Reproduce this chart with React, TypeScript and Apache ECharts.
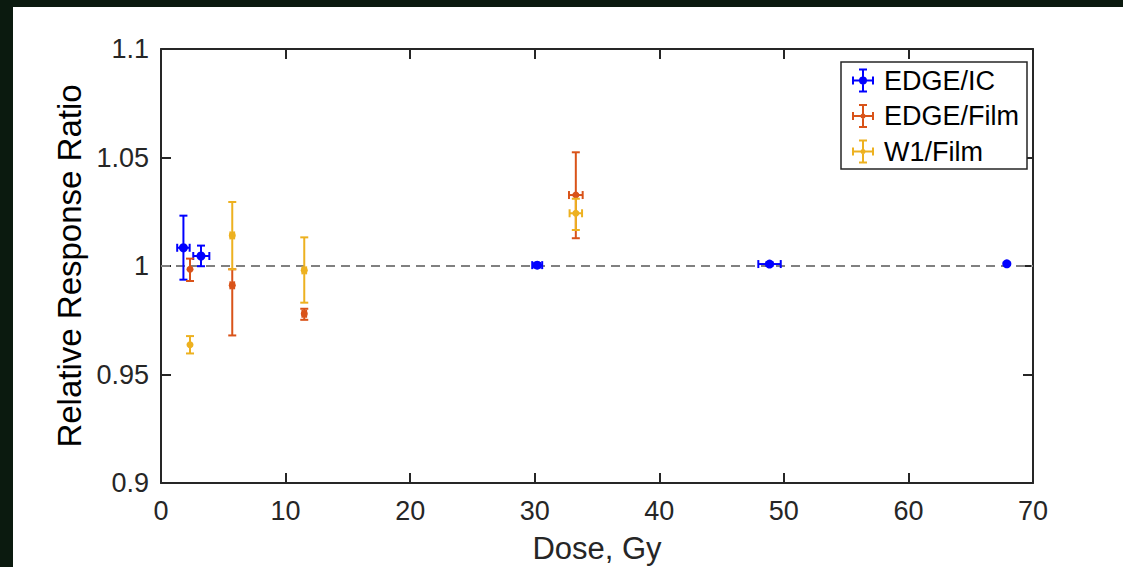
import React, { useEffect, useRef } from "react";
import * as echarts from "echarts";

// ---- data ----
const seriesNames = ["EDGE/IC", "EDGE/Film", "W1/Film"];
const seriesColors = ["#0000FF", "#D95319", "#EDB120"];

const icDose = [1.8, 3.21, 30.2, 48.85, 67.9];
const icRatio = [1.0084, 1.0046, 1.0004, 1.0009, 1.001];
const icRatioLow = [0.9937, 0.9999, 0.9994, 1.0001, 1.0006];
const icRatioHigh = [1.0232, 1.0094, 1.0014, 1.0017, 1.0014];
const icDoseLow = [1.3, 2.59, 29.8, 47.95, 67.9];
const icDoseHigh = [2.3, 3.88, 30.6, 49.75, 67.9];

const edgeFilmDose = [2.33, 5.72, 11.5, 33.3];
const edgeFilmRatio = [0.9985, 0.9911, 0.978, 1.0327];
const edgeFilmRatioLow = [0.9931, 0.968, 0.9752, 1.0128];
const edgeFilmRatioHigh = [1.0034, 0.9985, 0.9803, 1.0524];
const edgeFilmDoseLow = [2.33, 5.57, 11.35, 32.75];
const edgeFilmDoseHigh = [2.33, 5.87, 11.65, 33.85];

const w1FilmDose = [2.33, 5.72, 11.5, 33.3];
const w1FilmRatio = [0.9637, 1.0141, 0.998, 1.0243];
const w1FilmRatioLow = [0.9597, 0.9985, 0.9831, 1.0166];
const w1FilmRatioHigh = [0.9677, 1.0295, 1.0132, 1.031];
const w1FilmDoseLow = [2.33, 5.57, 11.35, 32.8];
const w1FilmDoseHigh = [2.33, 5.87, 11.65, 33.8];

const referenceDose = [0, 70];
const referenceRatio = [1, 1];

const xAxisMin = 0;
const xAxisMax = 70;
const xAxisStep = 10;
const yAxisMin = 0.9;
const yAxisMax = 1.1;
const yAxisStep = 0.05;

const xAxisTitle = "Dose, Gy";
const yAxisTitle = "Relative Response Ratio";

const FONT = "'Liberation Sans', Arial, Helvetica, sans-serif";
const AXIS_COLOR = "#262626";

function rows(
  dose: number[],
  ratio: number[],
  lo: number[],
  hi: number[],
  dlo: number[],
  dhi: number[]
) {
  return dose.map((d, i) => [d, ratio[i], lo[i], hi[i], dlo[i], dhi[i]]);
}

function legendIcon(r: number) {
  const parts = [
    "M10,0 h2 v24 h-2 Z",
    "M7,0 h8 v2 h-8 Z",
    "M7,22 h8 v2 h-8 Z",
    "M0,11 h22 v2 h-22 Z",
    "M0,8 h2 v8 h-2 Z",
    "M20,8 h2 v8 h-2 Z",
    `M${11 - r},12 A${r},${r} 0 1 1 ${11 + r},12 A${r},${r} 0 1 1 ${11 - r},12 Z`,
  ];
  return "path://" + parts.join(" ");
}

function makeErrorSeries(name: string, color: string, data: number[][], radius: number) {
  return {
    type: "custom",
    name,
    xAxisIndex: 0,
    yAxisIndex: 0,
    itemStyle: { color },
    encode: { x: 0, y: 1 },
    data,
    z: 3,
    renderItem: (params: any, api: any) => {
      const x = api.value(0);
      const y = api.value(1);
      const yl = api.value(2);
      const yh = api.value(3);
      const xl = api.value(4);
      const xh = api.value(5);
      const c = api.coord([x, y]);
      const pLo = api.coord([x, yl]);
      const pHi = api.coord([x, yh]);
      const qLo = api.coord([xl, y]);
      const qHi = api.coord([xh, y]);
      const st = { stroke: color, lineWidth: 2, fill: "none" };
      const cap = 4;
      const children: any[] = [];
      children.push({ type: "line", shape: { x1: pLo[0], y1: pLo[1], x2: pHi[0], y2: pHi[1] }, style: st });
      children.push({ type: "line", shape: { x1: pLo[0] - cap, y1: pLo[1], x2: pLo[0] + cap, y2: pLo[1] }, style: st });
      children.push({ type: "line", shape: { x1: pHi[0] - cap, y1: pHi[1], x2: pHi[0] + cap, y2: pHi[1] }, style: st });
      if (xh - xl > 1e-9) {
        children.push({ type: "line", shape: { x1: qLo[0], y1: qLo[1], x2: qHi[0], y2: qHi[1] }, style: st });
        children.push({ type: "line", shape: { x1: qLo[0], y1: qLo[1] - cap, x2: qLo[0], y2: qLo[1] + cap }, style: st });
        children.push({ type: "line", shape: { x1: qHi[0], y1: qHi[1] - cap, x2: qHi[0], y2: qHi[1] + cap }, style: st });
      }
      children.push({ type: "circle", shape: { cx: c[0], cy: c[1], r: radius }, style: { fill: color, stroke: "none" } });
      return { type: "group", children };
    },
  };
}

export default function App() {
  const ref = useRef<HTMLDivElement>(null);

  useEffect(() => {
    if (!ref.current) return;
    const chart = echarts.init(ref.current, undefined, { renderer: "svg" });

    const axisCommon = {
      min: xAxisMin,
      max: xAxisMax,
      interval: xAxisStep,
    };
    const yCommon = {
      min: yAxisMin,
      max: yAxisMax,
      interval: yAxisStep,
    };
    const line = { show: true, onZero: false, lineStyle: { color: AXIS_COLOR, width: 2 } };
    const tick = { show: true, inside: true, length: 10, lineStyle: { color: AXIS_COLOR, width: 2 } };

    const option: any = {
      animation: false,
      backgroundColor: "#ffffff",
      textStyle: { fontFamily: FONT },
      grid: {
        left: 148,
        top: 42,
        width: 872,
        height: 434,
        containLabel: false,
        outerBoundsMode: "none",
      },
      legend: {
        orient: "vertical",
        left: 828,
        top: 55,
        padding: [5, 8, 4, 11],
        itemGap: 8.5,
        itemWidth: 22,
        itemHeight: 24,
        borderColor: AXIS_COLOR,
        borderWidth: 1.5,
        backgroundColor: "#ffffff",
        textStyle: { fontSize: 27, color: "#000000", fontFamily: FONT, lineHeight: 26, padding: [0, 0, 0, 5] },
        data: seriesNames.map((n, i) => ({ name: n, icon: legendIcon(i === 0 ? 4 : 2.5) })),
      },
      xAxis: [
        {
          type: "value",
          position: "bottom",
          ...axisCommon,
          axisLine: line,
          axisTick: tick,
          splitLine: { show: false },
          axisLabel: { show: true, fontSize: 27, color: AXIS_COLOR, margin: 14, fontFamily: FONT },
          name: xAxisTitle,
          nameLocation: "middle",
          nameGap: 50,
          nameTextStyle: { fontSize: 31, color: AXIS_COLOR, fontFamily: FONT },
        },
        {
          type: "value",
          position: "top",
          ...axisCommon,
          axisLine: line,
          axisTick: tick,
          splitLine: { show: false },
          axisLabel: { show: false },
        },
      ],
      yAxis: [
        {
          type: "value",
          position: "left",
          ...yCommon,
          axisLine: line,
          axisTick: tick,
          splitLine: { show: false },
          axisLabel: {
            show: true,
            fontSize: 27,
            color: AXIS_COLOR,
            margin: 12,
            fontFamily: FONT,
            formatter: (v: number) => String(parseFloat(v.toFixed(2))),
          },
          name: yAxisTitle,
          nameLocation: "middle",
          nameGap: 74,
          nameRotate: 90,
          nameTextStyle: { fontSize: 33, color: "#000000", fontFamily: FONT },
        },
        {
          type: "value",
          position: "right",
          ...yCommon,
          axisLine: line,
          axisTick: tick,
          splitLine: { show: false },
          axisLabel: { show: false },
        },
      ],
      series: [
        {
          type: "line",
          name: "reference",
          data: referenceDose.map((d, i) => [d, referenceRatio[i]]),
          symbol: "none",
          silent: true,
          lineStyle: { color: "#808080", width: 1.8, type: [9, 6] },
          z: 1,
        },
        makeErrorSeries(seriesNames[0], seriesColors[0], rows(icDose, icRatio, icRatioLow, icRatioHigh, icDoseLow, icDoseHigh), 4.5),
        makeErrorSeries(
          seriesNames[1],
          seriesColors[1],
          rows(edgeFilmDose, edgeFilmRatio, edgeFilmRatioLow, edgeFilmRatioHigh, edgeFilmDoseLow, edgeFilmDoseHigh),
          3.5
        ),
        makeErrorSeries(
          seriesNames[2],
          seriesColors[2],
          rows(w1FilmDose, w1FilmRatio, w1FilmRatioLow, w1FilmRatioHigh, w1FilmDoseLow, w1FilmDoseHigh),
          3.5
        ),
      ],
    };

    chart.setOption(option);
    return () => chart.dispose();
  }, []);

  return (
    <div
      style={{
        position: "fixed",
        left: 0,
        top: 0,
        width: 1123,
        height: 567,
        background: "#0b1a0f",
        overflow: "hidden",
      }}
    >
      <div
        ref={ref}
        style={{ position: "absolute", left: 13, top: 7, width: 1110, height: 560, background: "#ffffff" }}
      />
    </div>
  );
}
